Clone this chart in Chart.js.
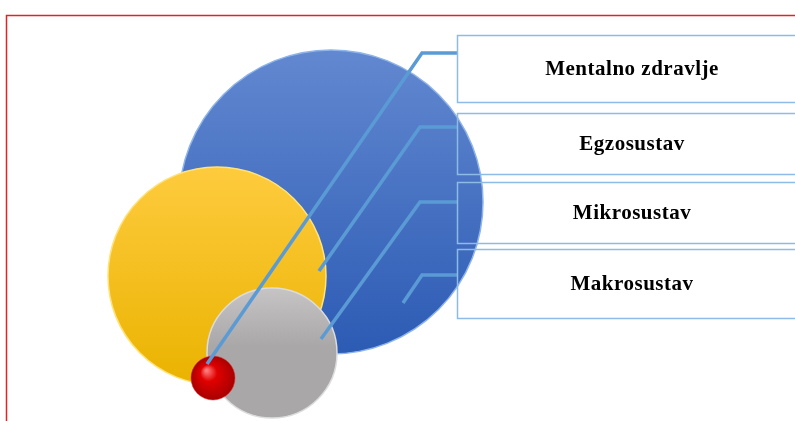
<!DOCTYPE html>
<html>
<head>
<meta charset="utf-8">
<script src="https://cdn.jsdelivr.net/npm/chart.js@4.4.1/dist/chart.umd.min.js"></script>
<style>
  html, body { margin: 0; padding: 0; background: #fff; }
  #c { display: block; }
</style>
</head>
<body>
<canvas id="c" width="795" height="421"></canvas>
<script>
// one circle per level
var levels = ['Mentalno zdravlje', 'Egzosustav', 'Mikrosustav', 'Makrosustav'];
var circleX = [213, 217, 272, 331];
var circleY = [378, 276, 353, 202];
var circleR = [22, 109, 65, 152];
var circleTop = ['#ff4a4a', '#fecb3e', '#c6c4c4', '#6288d0'];
var circleBottom = ['#b80000', '#eab300', '#a9a7a7', '#2c5bb4'];
var circleEdge = ['#e03030', '#ffe27a', '#dcdcdc', '#8fb4ea'];
var drawOrder = [1, 3, 2, 4]; // lower = on top

// label boxes (top / bottom of each box, in chart units)
var boxTop = [35, 113, 182, 249];
var boxBottom = [102, 174, 243, 318];
var boxLeft = 457;
var boxRight = 808;

// leader lines: box edge -> elbow -> point inside the circle
var elbowX = [422, 420, 420, 422];
var lineY = [53, 127, 202, 275];
var endX = [207, 319, 321, 403];
var endY = [364, 271, 339, 303];

function circleFill(i) {
    return function (ctx) {
        var chart = ctx.chart;
        if (!chart.chartArea) return circleBottom[i];
        var x = chart.scales.x.getPixelForValue(circleX[i]);
        var y = chart.scales.y.getPixelForValue(circleY[i]);
        var r = circleR[i];
        var g;
        if (i === 0) {
            g = chart.ctx.createRadialGradient(x - r * 0.3, y - r * 0.35, 1, x, y, r);
            g.addColorStop(0, '#ff7a7a');
            g.addColorStop(0.35, '#e00000');
            g.addColorStop(1, '#a80000');
        } else {
            g = chart.ctx.createLinearGradient(0, y - r, 0, y + r);
            g.addColorStop(0, circleTop[i]);
            g.addColorStop(i === 2 ? 0.45 : 1, circleBottom[i]);
            g.addColorStop(1, circleBottom[i]);
        }
        return g;
    };
}

var datasets = [];
for (var i = 0; i < levels.length; i++) {
    datasets.push({
        type: 'line',
        label: levels[i] + ' line',
        data: [
            {x: boxLeft, y: lineY[i]},
            {x: elbowX[i], y: lineY[i]},
            {x: endX[i], y: endY[i]}
        ],
        borderColor: '#5b9bd5',
        borderWidth: 3.5,
        pointRadius: 0,
        tension: 0,
        fill: false,
        order: 0
    });
}
for (var j = 0; j < levels.length; j++) {
    datasets.push({
        type: 'bubble',
        label: levels[j],
        data: [{x: circleX[j], y: circleY[j], r: circleR[j]}],
        backgroundColor: circleFill(j),
        borderColor: circleEdge[j],
        borderWidth: j === 0 ? 0.5 : 1.5,
        hoverRadius: 0,
        order: drawOrder[j]
    });
}

var framePlugin = {
    id: 'frame',
    beforeDraw: function (chart) {
        var c = chart.ctx;
        c.save();
        c.fillStyle = '#fff';
        c.fillRect(0, 0, chart.width, chart.height);
        c.strokeStyle = '#e02424';
        c.lineWidth = 1.5;
        c.strokeRect(6.5, 15.5, chart.width + 20, chart.height + 20);
        c.restore();
    },
    afterDraw: function (chart) {
        var c = chart.ctx, sx = chart.scales.x, sy = chart.scales.y;
        c.save();
        c.strokeStyle = '#8dbbe6';
        c.lineWidth = 1.5;
        var l = sx.getPixelForValue(boxLeft), r = sx.getPixelForValue(boxRight);
        for (var k = 0; k < levels.length; k++) {
            var t = sy.getPixelForValue(boxTop[k]), b = sy.getPixelForValue(boxBottom[k]);
            c.strokeRect(l + 0.5, t + 0.5, r - l, b - t);
            c.fillStyle = '#000';
            c.font = 'bold 21px "Liberation Serif", "Times New Roman", serif';
            c.letterSpacing = '0.5px';
            c.textAlign = 'center';
            c.textBaseline = 'middle';
            c.fillText(levels[k], 632, (t + b) / 2 + 1);
        }
        c.restore();
    }
};

new Chart(document.getElementById('c'), {
    type: 'bubble',
    data: {datasets: datasets},
    options: {
        responsive: false,
        animation: false,
        events: [],
        layout: {padding: 0, autoPadding: false},
        clip: false,
        scales: {
            x: {type: 'linear', min: 0, max: 795, display: false},
            y: {type: 'linear', min: 0, max: 421, reverse: true, display: false}
        },
        plugins: {
            legend: {display: false},
            tooltip: {enabled: false}
        }
    },
    plugins: [framePlugin]
});
</script>
</body>
</html>
